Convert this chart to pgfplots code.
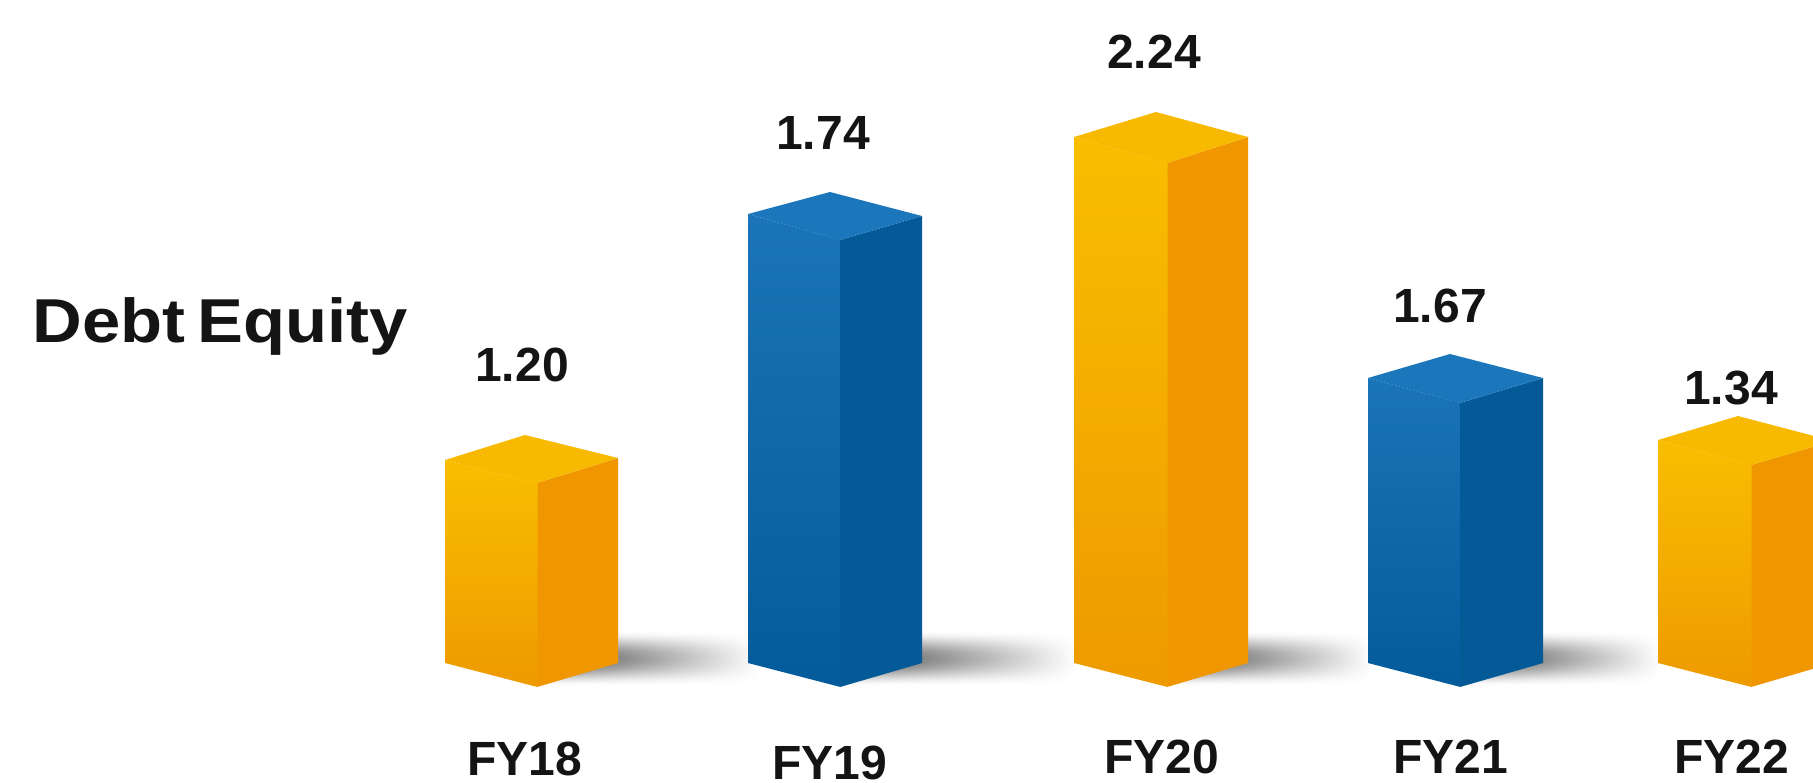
\documentclass[border=0pt]{standalone}
\usepackage{pgfplots}
\pgfplotsset{compat=1.18}
\usepackage{pgfplotstable}
\usepackage{fontspec}
\setmainfont{Liberation Sans}
\definecolor{ofronttop}{HTML}{F9BE00}
\definecolor{ofrontbot}{HTML}{EE9A00}
\definecolor{oside}{HTML}{EF9600}
\definecolor{otop}{HTML}{F7BA00}
\definecolor{bfronttop}{HTML}{1B74B7}
\definecolor{bfrontbot}{HTML}{045B9C}
\definecolor{bside}{HTML}{045A96}
\definecolor{btop}{HTML}{1C76BB}
\pgfdeclarefunctionalshading{floorshadow}{\pgfpointorigin}{\pgfpoint{100bp}{100bp}}{}{
  25 sub 50 div dup 1 exch sub mul 4 mul dup mul
  exch 25 sub 50 div 1 exch sub mul
  0.72 mul 1 exch sub dup dup
}
\pgfplotsset{
  ofront/.style={draw=none,mark=none,forget plot,top color=ofronttop,bottom color=ofrontbot},
  oright/.style={draw=none,mark=none,forget plot,fill=oside},
  ocap/.style={draw=none,mark=none,forget plot,fill=otop},
  bfront/.style={draw=none,mark=none,forget plot,top color=bfronttop,bottom color=bfrontbot},
  bright/.style={draw=none,mark=none,forget plot,fill=bside},
  bcap/.style={draw=none,mark=none,forget plot,fill=btop},
  shadow/.style={draw=none,mark=none,forget plot,shading=floorshadow},
}
% labels: x, y (pixel position in the picture), text
\pgfplotstableread{
x y label
522 365 1.20
823 133 1.74
1154 52 2.24
1440 306 1.67
1731 388 1.34
}\valuelabels
\pgfplotstableread{
x y label
525 759 FY18
830 763 FY19
1162 757 FY20
1451 757 FY21
1732 757 FY22
}\catlabels
\begin{document}
\begin{tikzpicture}
\begin{axis}[
  name=a,
  width=1813pt,height=782pt,scale only axis,
  xmin=0,xmax=1813,ymin=0,ymax=782,y dir=reverse,
  hide axis,clip=true,
]
% floor shadows
\addplot[shadow] coordinates {(540,630) (760,630) (760,686) (540,686) (540,630)};
\addplot[shadow] coordinates {(842,630) (1076,630) (1076,686) (842,686) (842,630)};
\addplot[shadow] coordinates {(1168,630) (1372,630) (1372,686) (1168,686) (1168,630)};
\addplot[shadow] coordinates {(1462,630) (1660,630) (1660,686) (1462,686) (1462,630)};
% FY18
\addplot[oright] coordinates {(537,483) (618,458) (618,663) (537,687) (537,483)};
\addplot[ocap] coordinates {(445,460) (525,435) (618,458) (537,483) (445,460)};
\addplot[ofront] coordinates {(445,460) (537.5,483) (537.5,687) (445,663) (445,460)};
% FY19
\addplot[bright] coordinates {(840,240) (922,216) (922,663) (840,687) (840,240)};
\addplot[bcap] coordinates {(748,214) (830,192) (922,216) (840,240) (748,214)};
\addplot[bfront] coordinates {(748,214) (840.5,240) (840.5,687) (748,663) (748,214)};
% FY20
\addplot[oright] coordinates {(1167,163) (1248,137) (1248,663) (1167,687) (1167,163)};
\addplot[ocap] coordinates {(1074,137) (1156,112) (1248,137) (1167,163) (1074,137)};
\addplot[ofront] coordinates {(1074,137) (1167.5,163) (1167.5,687) (1074,663) (1074,137)};
% FY21
\addplot[bright] coordinates {(1460,403) (1543,378) (1543,663) (1460,687) (1460,403)};
\addplot[bcap] coordinates {(1368,378) (1450,354) (1543,378) (1460,403) (1368,378)};
\addplot[bfront] coordinates {(1368,378) (1460.5,403) (1460.5,687) (1368,663) (1368,378)};
% FY22
\addplot[oright] coordinates {(1751,465) (1833,441) (1833,663) (1751,687) (1751,465)};
\addplot[ocap] coordinates {(1658,440) (1738,416) (1833,441) (1751,465) (1658,440)};
\addplot[ofront] coordinates {(1658,440) (1751.5,465) (1751.5,687) (1658,663) (1658,440)};
% data labels and categories
\addplot[draw=none,mark=none,forget plot,point meta=explicit symbolic,
  nodes near coords,
  nodes near coords style={anchor=center,inner sep=0pt,font=\fontsize{48}{52}\selectfont\bfseries,text=black!92}]
  table[x=x,y=y,meta=label] {\valuelabels};
\addplot[draw=none,mark=none,forget plot,point meta=explicit symbolic,
  nodes near coords,
  nodes near coords style={anchor=center,inner sep=0pt,font=\fontsize{48}{52}\selectfont\bfseries,text=black!92}]
  table[x=x,y=y,meta=label] {\catlabels};
\node[anchor=center,inner sep=0pt,xscale=1.11,font=\fontsize{62}{66}\selectfont\bfseries,text=black!92] at (axis cs:220,326) {Debt\hspace{0.17em}Equity};
\end{axis}
\pgfresetboundingbox
\path[use as bounding box] (a.south west) rectangle (a.north east);
\end{tikzpicture}
\end{document}
